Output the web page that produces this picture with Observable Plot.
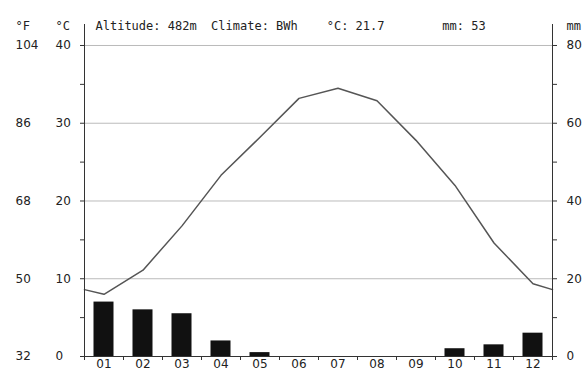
<!DOCTYPE html>
<html>
<head>
<meta charset="utf-8">
<script src="https://cdn.jsdelivr.net/npm/d3@7"></script>
<script src="https://cdn.jsdelivr.net/npm/@observablehq/plot@0.6"></script>
<style>
  html, body { margin: 0; padding: 0; background: #fff; }
</style>
</head>
<body>
<div id="chart"></div>
<script>
// Monthly climate normals
const months = ["01", "02", "03", "04", "05", "06", "07", "08", "09", "10", "11", "12"];
const tempC = [8.0, 11.1, 16.8, 23.3, 28.2, 33.2, 34.5, 32.9, 27.8, 22.0, 14.6, 9.35];
const precipMm = [14, 12, 11, 4, 1, 0, 0, 0, 0, 2, 3, 6];
// Temperature where the Dec–Jan curve meets the frame edges
const edgeTempC = 8.6;

// Axis ticks
const celsiusTicks = [0, 10, 20, 30, 40];
const minorTicks = [0, 5, 10, 15, 20, 25, 30, 35, 40];
const fahrenheitTicks = [32, 50, 68, 86, 104];
const mmTicks = [0, 20, 40, 60, 80];

// Header fields
const altitude = "482m";
const climate = "BWh";
const meanTemp = "21.7";
const totalPrecip = "53";

const mono = "DejaVu Sans Mono";
const ink = "#222";

// 1 °C on the left shares a position with 2 mm on the right
const mmToC = mm => mm / 2;
const fToC = f => (f - 32) * 5 / 9;

const monthIndex = months.map((m, i) => i + 1);
const tempLine = [
  {m: 0.5, t: edgeTempC},
  ...tempC.map((t, i) => ({m: monthIndex[i], t})),
  {m: 12.5, t: edgeTempC}
];
const bars = precipMm.map((mm, i) => ({m: monthIndex[i], mm})).filter(d => d.mm > 0);

const pad = s => s.padEnd(16, "\u00a0");
const header = pad(`Altitude: ${altitude}`) + pad(`Climate: ${climate}`) +
  pad(`°C: ${meanTemp}`) + `mm: ${totalPrecip}`;

const chart = Plot.plot({
  width: 582,
  height: 372,
  marginLeft: 84,
  marginRight: 30,
  marginTop: 24,
  marginBottom: 16,
  style: {fontFamily: "DejaVu Sans", fontSize: "12px", color: ink, background: "#fff"},
  x: {type: "linear", domain: [0.5, 12.5]},
  y: {domain: [0, 42.7]},
  marks: [
    // horizontal gridlines
    Plot.ruleY(celsiusTicks.filter(d => d > 0), {stroke: "#bbb", strokeWidth: 1}),
    // precipitation bars
    Plot.rectY(bars, {
      x1: d => d.m - 0.5, x2: d => d.m + 0.5,
      y1: 0, y2: d => mmToC(d.mm),
      insetLeft: 9.5, insetRight: 9.5, fill: "#111"
    }),
    // temperature curve
    Plot.line(tempLine, {x: "m", y: "t", stroke: "#555", strokeWidth: 1.5}),
    // frame: left, right and bottom axis lines
    Plot.ruleX([0.5, 12.5], {stroke: "#333"}),
    Plot.ruleY([0], {stroke: "#333"}),
    // tick marks
    Plot.axisY(minorTicks, {anchor: "left", tickSize: 4, tickFormat: () => "", label: null, stroke: "#333"}),
    Plot.axisY(minorTicks, {anchor: "right", tickSize: 4, tickFormat: () => "", label: null, stroke: "#333"}),
    Plot.axisX(d3.range(0.5, 13, 1), {anchor: "bottom", tickSize: 4, tickFormat: () => "", label: null, stroke: "#333"}),
    // tick labels
    Plot.text(celsiusTicks, {y: d => d, text: d => String(d), frameAnchor: "left", dx: -29, textAnchor: "start", fill: ink}),
    Plot.text(fahrenheitTicks, {y: fToC, text: d => String(d), frameAnchor: "left", dx: -69, textAnchor: "start", fill: ink}),
    Plot.text(mmTicks, {y: mmToC, text: d => String(d), frameAnchor: "right", dx: 14, textAnchor: "start", fill: ink}),
    Plot.text(months, {x: (d, i) => monthIndex[i], text: d => d, frameAnchor: "bottom", dy: 11, fill: ink}),
    // units and header line
    Plot.text(["°F"], {frameAnchor: "top-left", dx: -69, dy: -3, textAnchor: "start", fontFamily: mono, fill: ink}),
    Plot.text(["°C"], {frameAnchor: "top-left", dx: -29, dy: -3, textAnchor: "start", fontFamily: mono, fill: ink}),
    Plot.text([header], {frameAnchor: "top-left", dx: 11, dy: -3, textAnchor: "start", fontFamily: mono, fill: ink}),
    Plot.text(["mm"], {frameAnchor: "top-right", dx: 14, dy: -3, textAnchor: "start", fontFamily: mono, fill: ink})
  ]
});

document.getElementById("chart").appendChild(chart);
</script>
</body>
</html>
